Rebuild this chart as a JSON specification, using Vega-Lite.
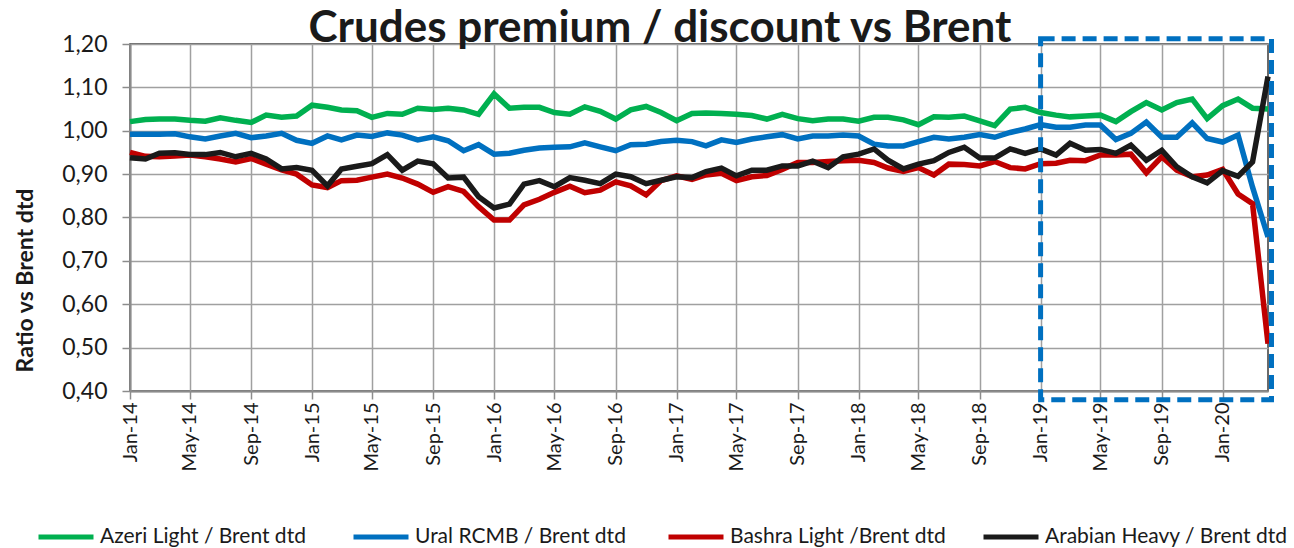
{
  "$schema": "https://vega.github.io/schema/vega-lite/v6.json",
  "width": 1138,
  "height": 347,
  "autosize": {"type": "none"},
  "padding": {"left": 130, "top": 44, "right": 26, "bottom": 157},
  "background": "white",
  "config": {"font": "Lato", "view": {"stroke": "#3a3a3a", "strokeWidth": 1.5}},
  "title": {"text": "Crudes premium / discount vs Brent", "font": "Lato", "fontSize": 44, "fontWeight": "bold", "color": "#1a1a1a", "anchor": "middle", "dx": -39, "offset": -18},
  "datasets": {
    "crudes": [
      {"month":"2014-01-01","crude":"Azeri Light / Brent dtd","ratio":1.021},
      {"month":"2014-02-01","crude":"Azeri Light / Brent dtd","ratio":1.026},
      {"month":"2014-03-01","crude":"Azeri Light / Brent dtd","ratio":1.027},
      {"month":"2014-04-01","crude":"Azeri Light / Brent dtd","ratio":1.027},
      {"month":"2014-05-01","crude":"Azeri Light / Brent dtd","ratio":1.024},
      {"month":"2014-06-01","crude":"Azeri Light / Brent dtd","ratio":1.022},
      {"month":"2014-07-01","crude":"Azeri Light / Brent dtd","ratio":1.030},
      {"month":"2014-08-01","crude":"Azeri Light / Brent dtd","ratio":1.024},
      {"month":"2014-09-01","crude":"Azeri Light / Brent dtd","ratio":1.019},
      {"month":"2014-10-01","crude":"Azeri Light / Brent dtd","ratio":1.036},
      {"month":"2014-11-01","crude":"Azeri Light / Brent dtd","ratio":1.031},
      {"month":"2014-12-01","crude":"Azeri Light / Brent dtd","ratio":1.034},
      {"month":"2015-01-01","crude":"Azeri Light / Brent dtd","ratio":1.059},
      {"month":"2015-02-01","crude":"Azeri Light / Brent dtd","ratio":1.054},
      {"month":"2015-03-01","crude":"Azeri Light / Brent dtd","ratio":1.048},
      {"month":"2015-04-01","crude":"Azeri Light / Brent dtd","ratio":1.046},
      {"month":"2015-05-01","crude":"Azeri Light / Brent dtd","ratio":1.031},
      {"month":"2015-06-01","crude":"Azeri Light / Brent dtd","ratio":1.040},
      {"month":"2015-07-01","crude":"Azeri Light / Brent dtd","ratio":1.038},
      {"month":"2015-08-01","crude":"Azeri Light / Brent dtd","ratio":1.052},
      {"month":"2015-09-01","crude":"Azeri Light / Brent dtd","ratio":1.049},
      {"month":"2015-10-01","crude":"Azeri Light / Brent dtd","ratio":1.052},
      {"month":"2015-11-01","crude":"Azeri Light / Brent dtd","ratio":1.048},
      {"month":"2015-12-01","crude":"Azeri Light / Brent dtd","ratio":1.038},
      {"month":"2016-01-01","crude":"Azeri Light / Brent dtd","ratio":1.085},
      {"month":"2016-02-01","crude":"Azeri Light / Brent dtd","ratio":1.052},
      {"month":"2016-03-01","crude":"Azeri Light / Brent dtd","ratio":1.054},
      {"month":"2016-04-01","crude":"Azeri Light / Brent dtd","ratio":1.054},
      {"month":"2016-05-01","crude":"Azeri Light / Brent dtd","ratio":1.042},
      {"month":"2016-06-01","crude":"Azeri Light / Brent dtd","ratio":1.038},
      {"month":"2016-07-01","crude":"Azeri Light / Brent dtd","ratio":1.055},
      {"month":"2016-08-01","crude":"Azeri Light / Brent dtd","ratio":1.045},
      {"month":"2016-09-01","crude":"Azeri Light / Brent dtd","ratio":1.027},
      {"month":"2016-10-01","crude":"Azeri Light / Brent dtd","ratio":1.048},
      {"month":"2016-11-01","crude":"Azeri Light / Brent dtd","ratio":1.056},
      {"month":"2016-12-01","crude":"Azeri Light / Brent dtd","ratio":1.042},
      {"month":"2017-01-01","crude":"Azeri Light / Brent dtd","ratio":1.023},
      {"month":"2017-02-01","crude":"Azeri Light / Brent dtd","ratio":1.040},
      {"month":"2017-03-01","crude":"Azeri Light / Brent dtd","ratio":1.041},
      {"month":"2017-04-01","crude":"Azeri Light / Brent dtd","ratio":1.040},
      {"month":"2017-05-01","crude":"Azeri Light / Brent dtd","ratio":1.038},
      {"month":"2017-06-01","crude":"Azeri Light / Brent dtd","ratio":1.035},
      {"month":"2017-07-01","crude":"Azeri Light / Brent dtd","ratio":1.027},
      {"month":"2017-08-01","crude":"Azeri Light / Brent dtd","ratio":1.038},
      {"month":"2017-09-01","crude":"Azeri Light / Brent dtd","ratio":1.028},
      {"month":"2017-10-01","crude":"Azeri Light / Brent dtd","ratio":1.023},
      {"month":"2017-11-01","crude":"Azeri Light / Brent dtd","ratio":1.027},
      {"month":"2017-12-01","crude":"Azeri Light / Brent dtd","ratio":1.027},
      {"month":"2018-01-01","crude":"Azeri Light / Brent dtd","ratio":1.022},
      {"month":"2018-02-01","crude":"Azeri Light / Brent dtd","ratio":1.031},
      {"month":"2018-03-01","crude":"Azeri Light / Brent dtd","ratio":1.031},
      {"month":"2018-04-01","crude":"Azeri Light / Brent dtd","ratio":1.025},
      {"month":"2018-05-01","crude":"Azeri Light / Brent dtd","ratio":1.014},
      {"month":"2018-06-01","crude":"Azeri Light / Brent dtd","ratio":1.032},
      {"month":"2018-07-01","crude":"Azeri Light / Brent dtd","ratio":1.031},
      {"month":"2018-08-01","crude":"Azeri Light / Brent dtd","ratio":1.034},
      {"month":"2018-09-01","crude":"Azeri Light / Brent dtd","ratio":1.023},
      {"month":"2018-10-01","crude":"Azeri Light / Brent dtd","ratio":1.012},
      {"month":"2018-11-01","crude":"Azeri Light / Brent dtd","ratio":1.050},
      {"month":"2018-12-01","crude":"Azeri Light / Brent dtd","ratio":1.054},
      {"month":"2019-01-01","crude":"Azeri Light / Brent dtd","ratio":1.042},
      {"month":"2019-02-01","crude":"Azeri Light / Brent dtd","ratio":1.036},
      {"month":"2019-03-01","crude":"Azeri Light / Brent dtd","ratio":1.032},
      {"month":"2019-04-01","crude":"Azeri Light / Brent dtd","ratio":1.034},
      {"month":"2019-05-01","crude":"Azeri Light / Brent dtd","ratio":1.036},
      {"month":"2019-06-01","crude":"Azeri Light / Brent dtd","ratio":1.021},
      {"month":"2019-07-01","crude":"Azeri Light / Brent dtd","ratio":1.044},
      {"month":"2019-08-01","crude":"Azeri Light / Brent dtd","ratio":1.065},
      {"month":"2019-09-01","crude":"Azeri Light / Brent dtd","ratio":1.048},
      {"month":"2019-10-01","crude":"Azeri Light / Brent dtd","ratio":1.065},
      {"month":"2019-11-01","crude":"Azeri Light / Brent dtd","ratio":1.073},
      {"month":"2019-12-01","crude":"Azeri Light / Brent dtd","ratio":1.028},
      {"month":"2020-01-01","crude":"Azeri Light / Brent dtd","ratio":1.058},
      {"month":"2020-02-01","crude":"Azeri Light / Brent dtd","ratio":1.073},
      {"month":"2020-03-01","crude":"Azeri Light / Brent dtd","ratio":1.052},
      {"month":"2020-04-01","crude":"Azeri Light / Brent dtd","ratio":1.050},
      {"month":"2014-01-01","crude":"Ural RCMB / Brent dtd","ratio":0.992},
      {"month":"2014-02-01","crude":"Ural RCMB / Brent dtd","ratio":0.992},
      {"month":"2014-03-01","crude":"Ural RCMB / Brent dtd","ratio":0.992},
      {"month":"2014-04-01","crude":"Ural RCMB / Brent dtd","ratio":0.993},
      {"month":"2014-05-01","crude":"Ural RCMB / Brent dtd","ratio":0.986},
      {"month":"2014-06-01","crude":"Ural RCMB / Brent dtd","ratio":0.981},
      {"month":"2014-07-01","crude":"Ural RCMB / Brent dtd","ratio":0.988},
      {"month":"2014-08-01","crude":"Ural RCMB / Brent dtd","ratio":0.994},
      {"month":"2014-09-01","crude":"Ural RCMB / Brent dtd","ratio":0.984},
      {"month":"2014-10-01","crude":"Ural RCMB / Brent dtd","ratio":0.988},
      {"month":"2014-11-01","crude":"Ural RCMB / Brent dtd","ratio":0.994},
      {"month":"2014-12-01","crude":"Ural RCMB / Brent dtd","ratio":0.978},
      {"month":"2015-01-01","crude":"Ural RCMB / Brent dtd","ratio":0.971},
      {"month":"2015-02-01","crude":"Ural RCMB / Brent dtd","ratio":0.988},
      {"month":"2015-03-01","crude":"Ural RCMB / Brent dtd","ratio":0.979},
      {"month":"2015-04-01","crude":"Ural RCMB / Brent dtd","ratio":0.990},
      {"month":"2015-05-01","crude":"Ural RCMB / Brent dtd","ratio":0.987},
      {"month":"2015-06-01","crude":"Ural RCMB / Brent dtd","ratio":0.995},
      {"month":"2015-07-01","crude":"Ural RCMB / Brent dtd","ratio":0.990},
      {"month":"2015-08-01","crude":"Ural RCMB / Brent dtd","ratio":0.979},
      {"month":"2015-09-01","crude":"Ural RCMB / Brent dtd","ratio":0.986},
      {"month":"2015-10-01","crude":"Ural RCMB / Brent dtd","ratio":0.977},
      {"month":"2015-11-01","crude":"Ural RCMB / Brent dtd","ratio":0.954},
      {"month":"2015-12-01","crude":"Ural RCMB / Brent dtd","ratio":0.968},
      {"month":"2016-01-01","crude":"Ural RCMB / Brent dtd","ratio":0.946},
      {"month":"2016-02-01","crude":"Ural RCMB / Brent dtd","ratio":0.948},
      {"month":"2016-03-01","crude":"Ural RCMB / Brent dtd","ratio":0.955},
      {"month":"2016-04-01","crude":"Ural RCMB / Brent dtd","ratio":0.960},
      {"month":"2016-05-01","crude":"Ural RCMB / Brent dtd","ratio":0.962},
      {"month":"2016-06-01","crude":"Ural RCMB / Brent dtd","ratio":0.963},
      {"month":"2016-07-01","crude":"Ural RCMB / Brent dtd","ratio":0.972},
      {"month":"2016-08-01","crude":"Ural RCMB / Brent dtd","ratio":0.963},
      {"month":"2016-09-01","crude":"Ural RCMB / Brent dtd","ratio":0.954},
      {"month":"2016-10-01","crude":"Ural RCMB / Brent dtd","ratio":0.968},
      {"month":"2016-11-01","crude":"Ural RCMB / Brent dtd","ratio":0.969},
      {"month":"2016-12-01","crude":"Ural RCMB / Brent dtd","ratio":0.975},
      {"month":"2017-01-01","crude":"Ural RCMB / Brent dtd","ratio":0.978},
      {"month":"2017-02-01","crude":"Ural RCMB / Brent dtd","ratio":0.975},
      {"month":"2017-03-01","crude":"Ural RCMB / Brent dtd","ratio":0.965},
      {"month":"2017-04-01","crude":"Ural RCMB / Brent dtd","ratio":0.979},
      {"month":"2017-05-01","crude":"Ural RCMB / Brent dtd","ratio":0.973},
      {"month":"2017-06-01","crude":"Ural RCMB / Brent dtd","ratio":0.981},
      {"month":"2017-07-01","crude":"Ural RCMB / Brent dtd","ratio":0.986},
      {"month":"2017-08-01","crude":"Ural RCMB / Brent dtd","ratio":0.991},
      {"month":"2017-09-01","crude":"Ural RCMB / Brent dtd","ratio":0.981},
      {"month":"2017-10-01","crude":"Ural RCMB / Brent dtd","ratio":0.988},
      {"month":"2017-11-01","crude":"Ural RCMB / Brent dtd","ratio":0.988},
      {"month":"2017-12-01","crude":"Ural RCMB / Brent dtd","ratio":0.990},
      {"month":"2018-01-01","crude":"Ural RCMB / Brent dtd","ratio":0.988},
      {"month":"2018-02-01","crude":"Ural RCMB / Brent dtd","ratio":0.969},
      {"month":"2018-03-01","crude":"Ural RCMB / Brent dtd","ratio":0.965},
      {"month":"2018-04-01","crude":"Ural RCMB / Brent dtd","ratio":0.965},
      {"month":"2018-05-01","crude":"Ural RCMB / Brent dtd","ratio":0.975},
      {"month":"2018-06-01","crude":"Ural RCMB / Brent dtd","ratio":0.985},
      {"month":"2018-07-01","crude":"Ural RCMB / Brent dtd","ratio":0.981},
      {"month":"2018-08-01","crude":"Ural RCMB / Brent dtd","ratio":0.985},
      {"month":"2018-09-01","crude":"Ural RCMB / Brent dtd","ratio":0.991},
      {"month":"2018-10-01","crude":"Ural RCMB / Brent dtd","ratio":0.985},
      {"month":"2018-11-01","crude":"Ural RCMB / Brent dtd","ratio":0.996},
      {"month":"2018-12-01","crude":"Ural RCMB / Brent dtd","ratio":1.004},
      {"month":"2019-01-01","crude":"Ural RCMB / Brent dtd","ratio":1.014},
      {"month":"2019-02-01","crude":"Ural RCMB / Brent dtd","ratio":1.008},
      {"month":"2019-03-01","crude":"Ural RCMB / Brent dtd","ratio":1.008},
      {"month":"2019-04-01","crude":"Ural RCMB / Brent dtd","ratio":1.013},
      {"month":"2019-05-01","crude":"Ural RCMB / Brent dtd","ratio":1.013},
      {"month":"2019-06-01","crude":"Ural RCMB / Brent dtd","ratio":0.980},
      {"month":"2019-07-01","crude":"Ural RCMB / Brent dtd","ratio":0.994},
      {"month":"2019-08-01","crude":"Ural RCMB / Brent dtd","ratio":1.020},
      {"month":"2019-09-01","crude":"Ural RCMB / Brent dtd","ratio":0.985},
      {"month":"2019-10-01","crude":"Ural RCMB / Brent dtd","ratio":0.985},
      {"month":"2019-11-01","crude":"Ural RCMB / Brent dtd","ratio":1.018},
      {"month":"2019-12-01","crude":"Ural RCMB / Brent dtd","ratio":0.982},
      {"month":"2020-01-01","crude":"Ural RCMB / Brent dtd","ratio":0.974},
      {"month":"2020-02-01","crude":"Ural RCMB / Brent dtd","ratio":0.990},
      {"month":"2020-03-01","crude":"Ural RCMB / Brent dtd","ratio":0.870},
      {"month":"2020-04-01","crude":"Ural RCMB / Brent dtd","ratio":0.755},
      {"month":"2014-01-01","crude":"Bashra Light /Brent dtd","ratio":0.950},
      {"month":"2014-02-01","crude":"Bashra Light /Brent dtd","ratio":0.941},
      {"month":"2014-03-01","crude":"Bashra Light /Brent dtd","ratio":0.940},
      {"month":"2014-04-01","crude":"Bashra Light /Brent dtd","ratio":0.942},
      {"month":"2014-05-01","crude":"Bashra Light /Brent dtd","ratio":0.944},
      {"month":"2014-06-01","crude":"Bashra Light /Brent dtd","ratio":0.940},
      {"month":"2014-07-01","crude":"Bashra Light /Brent dtd","ratio":0.935},
      {"month":"2014-08-01","crude":"Bashra Light /Brent dtd","ratio":0.928},
      {"month":"2014-09-01","crude":"Bashra Light /Brent dtd","ratio":0.936},
      {"month":"2014-10-01","crude":"Bashra Light /Brent dtd","ratio":0.923},
      {"month":"2014-11-01","crude":"Bashra Light /Brent dtd","ratio":0.910},
      {"month":"2014-12-01","crude":"Bashra Light /Brent dtd","ratio":0.900},
      {"month":"2015-01-01","crude":"Bashra Light /Brent dtd","ratio":0.875},
      {"month":"2015-02-01","crude":"Bashra Light /Brent dtd","ratio":0.869},
      {"month":"2015-03-01","crude":"Bashra Light /Brent dtd","ratio":0.885},
      {"month":"2015-04-01","crude":"Bashra Light /Brent dtd","ratio":0.886},
      {"month":"2015-05-01","crude":"Bashra Light /Brent dtd","ratio":0.893},
      {"month":"2015-06-01","crude":"Bashra Light /Brent dtd","ratio":0.900},
      {"month":"2015-07-01","crude":"Bashra Light /Brent dtd","ratio":0.891},
      {"month":"2015-08-01","crude":"Bashra Light /Brent dtd","ratio":0.877},
      {"month":"2015-09-01","crude":"Bashra Light /Brent dtd","ratio":0.858},
      {"month":"2015-10-01","crude":"Bashra Light /Brent dtd","ratio":0.871},
      {"month":"2015-11-01","crude":"Bashra Light /Brent dtd","ratio":0.860},
      {"month":"2015-12-01","crude":"Bashra Light /Brent dtd","ratio":0.825},
      {"month":"2016-01-01","crude":"Bashra Light /Brent dtd","ratio":0.794},
      {"month":"2016-02-01","crude":"Bashra Light /Brent dtd","ratio":0.794},
      {"month":"2016-03-01","crude":"Bashra Light /Brent dtd","ratio":0.829},
      {"month":"2016-04-01","crude":"Bashra Light /Brent dtd","ratio":0.842},
      {"month":"2016-05-01","crude":"Bashra Light /Brent dtd","ratio":0.858},
      {"month":"2016-06-01","crude":"Bashra Light /Brent dtd","ratio":0.872},
      {"month":"2016-07-01","crude":"Bashra Light /Brent dtd","ratio":0.857},
      {"month":"2016-08-01","crude":"Bashra Light /Brent dtd","ratio":0.863},
      {"month":"2016-09-01","crude":"Bashra Light /Brent dtd","ratio":0.882},
      {"month":"2016-10-01","crude":"Bashra Light /Brent dtd","ratio":0.873},
      {"month":"2016-11-01","crude":"Bashra Light /Brent dtd","ratio":0.852},
      {"month":"2016-12-01","crude":"Bashra Light /Brent dtd","ratio":0.885},
      {"month":"2017-01-01","crude":"Bashra Light /Brent dtd","ratio":0.896},
      {"month":"2017-02-01","crude":"Bashra Light /Brent dtd","ratio":0.888},
      {"month":"2017-03-01","crude":"Bashra Light /Brent dtd","ratio":0.898},
      {"month":"2017-04-01","crude":"Bashra Light /Brent dtd","ratio":0.902},
      {"month":"2017-05-01","crude":"Bashra Light /Brent dtd","ratio":0.885},
      {"month":"2017-06-01","crude":"Bashra Light /Brent dtd","ratio":0.894},
      {"month":"2017-07-01","crude":"Bashra Light /Brent dtd","ratio":0.897},
      {"month":"2017-08-01","crude":"Bashra Light /Brent dtd","ratio":0.911},
      {"month":"2017-09-01","crude":"Bashra Light /Brent dtd","ratio":0.927},
      {"month":"2017-10-01","crude":"Bashra Light /Brent dtd","ratio":0.927},
      {"month":"2017-11-01","crude":"Bashra Light /Brent dtd","ratio":0.929},
      {"month":"2017-12-01","crude":"Bashra Light /Brent dtd","ratio":0.931},
      {"month":"2018-01-01","crude":"Bashra Light /Brent dtd","ratio":0.932},
      {"month":"2018-02-01","crude":"Bashra Light /Brent dtd","ratio":0.927},
      {"month":"2018-03-01","crude":"Bashra Light /Brent dtd","ratio":0.914},
      {"month":"2018-04-01","crude":"Bashra Light /Brent dtd","ratio":0.906},
      {"month":"2018-05-01","crude":"Bashra Light /Brent dtd","ratio":0.915},
      {"month":"2018-06-01","crude":"Bashra Light /Brent dtd","ratio":0.898},
      {"month":"2018-07-01","crude":"Bashra Light /Brent dtd","ratio":0.923},
      {"month":"2018-08-01","crude":"Bashra Light /Brent dtd","ratio":0.922},
      {"month":"2018-09-01","crude":"Bashra Light /Brent dtd","ratio":0.919},
      {"month":"2018-10-01","crude":"Bashra Light /Brent dtd","ratio":0.929},
      {"month":"2018-11-01","crude":"Bashra Light /Brent dtd","ratio":0.915},
      {"month":"2018-12-01","crude":"Bashra Light /Brent dtd","ratio":0.912},
      {"month":"2019-01-01","crude":"Bashra Light /Brent dtd","ratio":0.924},
      {"month":"2019-02-01","crude":"Bashra Light /Brent dtd","ratio":0.925},
      {"month":"2019-03-01","crude":"Bashra Light /Brent dtd","ratio":0.932},
      {"month":"2019-04-01","crude":"Bashra Light /Brent dtd","ratio":0.931},
      {"month":"2019-05-01","crude":"Bashra Light /Brent dtd","ratio":0.944},
      {"month":"2019-06-01","crude":"Bashra Light /Brent dtd","ratio":0.944},
      {"month":"2019-07-01","crude":"Bashra Light /Brent dtd","ratio":0.946},
      {"month":"2019-08-01","crude":"Bashra Light /Brent dtd","ratio":0.903},
      {"month":"2019-09-01","crude":"Bashra Light /Brent dtd","ratio":0.940},
      {"month":"2019-10-01","crude":"Bashra Light /Brent dtd","ratio":0.909},
      {"month":"2019-11-01","crude":"Bashra Light /Brent dtd","ratio":0.894},
      {"month":"2019-12-01","crude":"Bashra Light /Brent dtd","ratio":0.898},
      {"month":"2020-01-01","crude":"Bashra Light /Brent dtd","ratio":0.911},
      {"month":"2020-02-01","crude":"Bashra Light /Brent dtd","ratio":0.854},
      {"month":"2020-03-01","crude":"Bashra Light /Brent dtd","ratio":0.832},
      {"month":"2020-04-01","crude":"Bashra Light /Brent dtd","ratio":0.509},
      {"month":"2014-01-01","crude":"Arabian Heavy / Brent dtd","ratio":0.938},
      {"month":"2014-02-01","crude":"Arabian Heavy / Brent dtd","ratio":0.935},
      {"month":"2014-03-01","crude":"Arabian Heavy / Brent dtd","ratio":0.948},
      {"month":"2014-04-01","crude":"Arabian Heavy / Brent dtd","ratio":0.949},
      {"month":"2014-05-01","crude":"Arabian Heavy / Brent dtd","ratio":0.945},
      {"month":"2014-06-01","crude":"Arabian Heavy / Brent dtd","ratio":0.945},
      {"month":"2014-07-01","crude":"Arabian Heavy / Brent dtd","ratio":0.950},
      {"month":"2014-08-01","crude":"Arabian Heavy / Brent dtd","ratio":0.940},
      {"month":"2014-09-01","crude":"Arabian Heavy / Brent dtd","ratio":0.948},
      {"month":"2014-10-01","crude":"Arabian Heavy / Brent dtd","ratio":0.935},
      {"month":"2014-11-01","crude":"Arabian Heavy / Brent dtd","ratio":0.912},
      {"month":"2014-12-01","crude":"Arabian Heavy / Brent dtd","ratio":0.915},
      {"month":"2015-01-01","crude":"Arabian Heavy / Brent dtd","ratio":0.909},
      {"month":"2015-02-01","crude":"Arabian Heavy / Brent dtd","ratio":0.873},
      {"month":"2015-03-01","crude":"Arabian Heavy / Brent dtd","ratio":0.912},
      {"month":"2015-04-01","crude":"Arabian Heavy / Brent dtd","ratio":0.918},
      {"month":"2015-05-01","crude":"Arabian Heavy / Brent dtd","ratio":0.924},
      {"month":"2015-06-01","crude":"Arabian Heavy / Brent dtd","ratio":0.945},
      {"month":"2015-07-01","crude":"Arabian Heavy / Brent dtd","ratio":0.909},
      {"month":"2015-08-01","crude":"Arabian Heavy / Brent dtd","ratio":0.930},
      {"month":"2015-09-01","crude":"Arabian Heavy / Brent dtd","ratio":0.924},
      {"month":"2015-10-01","crude":"Arabian Heavy / Brent dtd","ratio":0.891},
      {"month":"2015-11-01","crude":"Arabian Heavy / Brent dtd","ratio":0.893},
      {"month":"2015-12-01","crude":"Arabian Heavy / Brent dtd","ratio":0.848},
      {"month":"2016-01-01","crude":"Arabian Heavy / Brent dtd","ratio":0.822},
      {"month":"2016-02-01","crude":"Arabian Heavy / Brent dtd","ratio":0.831},
      {"month":"2016-03-01","crude":"Arabian Heavy / Brent dtd","ratio":0.877},
      {"month":"2016-04-01","crude":"Arabian Heavy / Brent dtd","ratio":0.885},
      {"month":"2016-05-01","crude":"Arabian Heavy / Brent dtd","ratio":0.871},
      {"month":"2016-06-01","crude":"Arabian Heavy / Brent dtd","ratio":0.892},
      {"month":"2016-07-01","crude":"Arabian Heavy / Brent dtd","ratio":0.886},
      {"month":"2016-08-01","crude":"Arabian Heavy / Brent dtd","ratio":0.878},
      {"month":"2016-09-01","crude":"Arabian Heavy / Brent dtd","ratio":0.900},
      {"month":"2016-10-01","crude":"Arabian Heavy / Brent dtd","ratio":0.894},
      {"month":"2016-11-01","crude":"Arabian Heavy / Brent dtd","ratio":0.878},
      {"month":"2016-12-01","crude":"Arabian Heavy / Brent dtd","ratio":0.886},
      {"month":"2017-01-01","crude":"Arabian Heavy / Brent dtd","ratio":0.894},
      {"month":"2017-02-01","crude":"Arabian Heavy / Brent dtd","ratio":0.892},
      {"month":"2017-03-01","crude":"Arabian Heavy / Brent dtd","ratio":0.906},
      {"month":"2017-04-01","crude":"Arabian Heavy / Brent dtd","ratio":0.914},
      {"month":"2017-05-01","crude":"Arabian Heavy / Brent dtd","ratio":0.896},
      {"month":"2017-06-01","crude":"Arabian Heavy / Brent dtd","ratio":0.909},
      {"month":"2017-07-01","crude":"Arabian Heavy / Brent dtd","ratio":0.909},
      {"month":"2017-08-01","crude":"Arabian Heavy / Brent dtd","ratio":0.919},
      {"month":"2017-09-01","crude":"Arabian Heavy / Brent dtd","ratio":0.919},
      {"month":"2017-10-01","crude":"Arabian Heavy / Brent dtd","ratio":0.930},
      {"month":"2017-11-01","crude":"Arabian Heavy / Brent dtd","ratio":0.915},
      {"month":"2017-12-01","crude":"Arabian Heavy / Brent dtd","ratio":0.940},
      {"month":"2018-01-01","crude":"Arabian Heavy / Brent dtd","ratio":0.946},
      {"month":"2018-02-01","crude":"Arabian Heavy / Brent dtd","ratio":0.958},
      {"month":"2018-03-01","crude":"Arabian Heavy / Brent dtd","ratio":0.932},
      {"month":"2018-04-01","crude":"Arabian Heavy / Brent dtd","ratio":0.912},
      {"month":"2018-05-01","crude":"Arabian Heavy / Brent dtd","ratio":0.923},
      {"month":"2018-06-01","crude":"Arabian Heavy / Brent dtd","ratio":0.931},
      {"month":"2018-07-01","crude":"Arabian Heavy / Brent dtd","ratio":0.950},
      {"month":"2018-08-01","crude":"Arabian Heavy / Brent dtd","ratio":0.962},
      {"month":"2018-09-01","crude":"Arabian Heavy / Brent dtd","ratio":0.937},
      {"month":"2018-10-01","crude":"Arabian Heavy / Brent dtd","ratio":0.937},
      {"month":"2018-11-01","crude":"Arabian Heavy / Brent dtd","ratio":0.958},
      {"month":"2018-12-01","crude":"Arabian Heavy / Brent dtd","ratio":0.948},
      {"month":"2019-01-01","crude":"Arabian Heavy / Brent dtd","ratio":0.958},
      {"month":"2019-02-01","crude":"Arabian Heavy / Brent dtd","ratio":0.944},
      {"month":"2019-03-01","crude":"Arabian Heavy / Brent dtd","ratio":0.971},
      {"month":"2019-04-01","crude":"Arabian Heavy / Brent dtd","ratio":0.955},
      {"month":"2019-05-01","crude":"Arabian Heavy / Brent dtd","ratio":0.957},
      {"month":"2019-06-01","crude":"Arabian Heavy / Brent dtd","ratio":0.948},
      {"month":"2019-07-01","crude":"Arabian Heavy / Brent dtd","ratio":0.967},
      {"month":"2019-08-01","crude":"Arabian Heavy / Brent dtd","ratio":0.932},
      {"month":"2019-09-01","crude":"Arabian Heavy / Brent dtd","ratio":0.955},
      {"month":"2019-10-01","crude":"Arabian Heavy / Brent dtd","ratio":0.917},
      {"month":"2019-11-01","crude":"Arabian Heavy / Brent dtd","ratio":0.894},
      {"month":"2019-12-01","crude":"Arabian Heavy / Brent dtd","ratio":0.880},
      {"month":"2020-01-01","crude":"Arabian Heavy / Brent dtd","ratio":0.908},
      {"month":"2020-02-01","crude":"Arabian Heavy / Brent dtd","ratio":0.895},
      {"month":"2020-03-01","crude":"Arabian Heavy / Brent dtd","ratio":0.928},
      {"month":"2020-04-01","crude":"Arabian Heavy / Brent dtd","ratio":1.125}
    ],
    "highlight": [
      {"start": "2019-01-01", "end": "2020-04-08", "low": 0.380, "high": 1.212}
    ]
  },
  "layer": [
    {
      "data": {"name": "crudes"},
      "mark": {"type": "line", "strokeWidth": 5.5},
      "encoding": {
        "x": {
          "field": "month", "type": "temporal",
          "scale": {"type": "utc", "domain": [{"year": 2014, "month": 1, "date": 1, "utc": true}, {"year": 2020, "month": 4, "date": 1, "utc": true}]},
          "axis": {
            "title": null,
            "values": [
              {"year": 2014, "month": 1, "date": 1, "utc": true}, {"year": 2014, "month": 5, "date": 1, "utc": true}, {"year": 2014, "month": 9, "date": 1, "utc": true},
              {"year": 2015, "month": 1, "date": 1, "utc": true}, {"year": 2015, "month": 5, "date": 1, "utc": true}, {"year": 2015, "month": 9, "date": 1, "utc": true},
              {"year": 2016, "month": 1, "date": 1, "utc": true}, {"year": 2016, "month": 5, "date": 1, "utc": true}, {"year": 2016, "month": 9, "date": 1, "utc": true},
              {"year": 2017, "month": 1, "date": 1, "utc": true}, {"year": 2017, "month": 5, "date": 1, "utc": true}, {"year": 2017, "month": 9, "date": 1, "utc": true},
              {"year": 2018, "month": 1, "date": 1, "utc": true}, {"year": 2018, "month": 5, "date": 1, "utc": true}, {"year": 2018, "month": 9, "date": 1, "utc": true},
              {"year": 2019, "month": 1, "date": 1, "utc": true}, {"year": 2019, "month": 5, "date": 1, "utc": true}, {"year": 2019, "month": 9, "date": 1, "utc": true},
              {"year": 2020, "month": 1, "date": 1, "utc": true}
            ],
            "labelExpr": "utcFormat(datum.value, '%b-%y')",
            "labelAngle": -90, "labelFontSize": 20, "labelColor": "#1a1a1a", "labelPadding": 3,
            "labelOverlap": false, "labelFlush": false,
            "tickSize": 8, "tickColor": "#8c8c8c", "tickWidth": 1.5,
            "domainColor": "#8c8c8c", "domainWidth": 2,
            "grid": true, "gridColor": "#a0a0a0", "gridWidth": 1.5
          }
        },
        "y": {
          "field": "ratio", "type": "quantitative",
          "scale": {"domain": [0.4, 1.2], "zero": false, "nice": false},
          "axis": {
            "title": "Ratio vs Brent dtd", "titleFontSize": 23, "titleFontWeight": "bold", "titleColor": "#1a1a1a",
            "titleAngle": -90, "titleX": -105, "titleY": 236, "titleAlign": "center", "titleBaseline": "middle",
            "values": [0.4, 0.5, 0.6, 0.7, 0.8, 0.9, 1.0, 1.1, 1.2],
            "labelExpr": "replace(format(datum.value, '.2f'), '.', ',')",
            "labelFontSize": 23, "labelColor": "#1a1a1a", "labelPadding": 15,
            "tickSize": 8, "tickColor": "#8c8c8c", "tickWidth": 1.5,
            "domainColor": "#8c8c8c", "domainWidth": 2,
            "grid": true, "gridColor": "#a0a0a0", "gridWidth": 1.5
          }
        },
        "color": {
          "field": "crude", "type": "nominal",
          "scale": {
            "domain": ["Azeri Light / Brent dtd", "Ural RCMB / Brent dtd", "Bashra Light /Brent dtd", "Arabian Heavy / Brent dtd"],
            "range": ["#00b050", "#0070c0", "#c00000", "#1a1a1a"]
          },
          "legend": {
            "title": null, "orient": "none", "legendX": -94, "legendY": 463,
            "direction": "horizontal", "columns": 4, "gridAlign": "all", "columnPadding": 0,
            "symbolType": "stroke", "symbolSize": 3025, "symbolStrokeWidth": 5,
            "labelFontSize": 21, "labelColor": "#1a1a1a", "labelOffset": 4, "labelLimit": 400
          }
        }
      }
    },
    {
      "mark": {"type": "rule", "color": "#1a1a1a", "strokeWidth": 4},
      "encoding": {"y": {"datum": 1}}
    },
    {
      "data": {"name": "highlight"},
      "mark": {"type": "rect", "fill": "transparent", "stroke": "#0070c0", "strokeWidth": 5, "strokeDash": [14, 7], "clip": false},
      "encoding": {
        "x": {"field": "start", "type": "temporal"},
        "x2": {"field": "end"},
        "y": {"field": "low", "type": "quantitative"},
        "y2": {"field": "high"}
      }
    }
  ]
}
